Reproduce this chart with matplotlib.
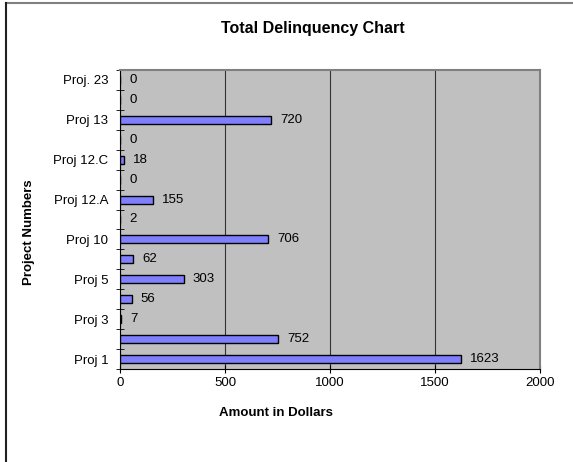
import matplotlib.pyplot as plt
from matplotlib.lines import Line2D

plt.rcParams['font.family'] = ['Liberation Sans', 'DejaVu Sans']

# projects from bottom to top; blank names are skipped on the axis
projects = ["Proj 1", "", "Proj 3", "", "Proj 5", "", "Proj 10", "",
            "Proj 12.A", "", "Proj 12.C", "", "Proj 13", "", "Proj. 23"]
amounts = [1623, 752, 7, 56, 303, 62, 706, 2, 155, 0, 18, 0, 720, 0, 0]
x_ticks = [0, 500, 1000, 1500, 2000]

fig = plt.figure(figsize=(5.73, 4.62), dpi=100)
ax = fig.add_axes([120/573, 1 - 369/462, 420/573, 299/462])
ax.set_facecolor('#c0c0c0')

pos = list(range(len(amounts)))
ax.barh(pos, amounts, height=0.4, color='#8080ff', edgecolor='black',
        linewidth=1, zorder=3)
for p, v in zip(pos, amounts):
    ax.annotate(str(v), (v, p), xytext=(6.5, 0), textcoords='offset points',
                va='center', ha='left', fontsize=9.5, zorder=4)

ax.set_xlim(0, 2000)
ax.set_ylim(-0.5, len(amounts) - 0.5)
ax.set_xticks(x_ticks)
ax.tick_params(axis='x', direction='inout', length=6, labelsize=9.5, pad=3)
ax.xaxis.grid(True, color='#333333', linewidth=0.8, zorder=1)

# labels at bar centres, tick marks at the category boundaries
ax.set_yticks(pos)
ax.set_yticklabels(projects)
ax.tick_params(axis='y', which='major', length=0, labelsize=9.5, pad=8.5)
ax.set_yticks([p - 0.5 for p in pos] + [len(pos) - 0.5], minor=True)
ax.tick_params(axis='y', which='minor', direction='inout', length=6)

for side in ('top', 'right'):
    ax.spines[side].set_color('#808080')
    ax.spines[side].set_linewidth(1.5)
ax.spines['left'].set_color('black')
ax.spines['bottom'].set_color('black')

fig.text(313/573, 1 - 29/462, 'Total Delinquency Chart', ha='center',
         va='center', fontsize=11.5, fontweight='bold')
fig.text(276/573, 1 - 413/462, 'Amount in Dollars', ha='center',
         va='center', fontsize=9.5, fontweight='bold')
fig.text(29/573, 1 - 232/462, 'Project Numbers', ha='center', va='center',
         rotation=90, fontsize=9.5, fontweight='bold')

# outer chart frame running off the right and bottom edges
fig.lines.append(Line2D([6/573, 1], [1 - 3/462] * 2, transform=fig.transFigure,
                        color='#808080', linewidth=1.5))
fig.lines.append(Line2D([6/573] * 2, [0, 1 - 3/462], transform=fig.transFigure,
                        color='#202020', linewidth=1.5))

fig.savefig('out.png', dpi=100)
